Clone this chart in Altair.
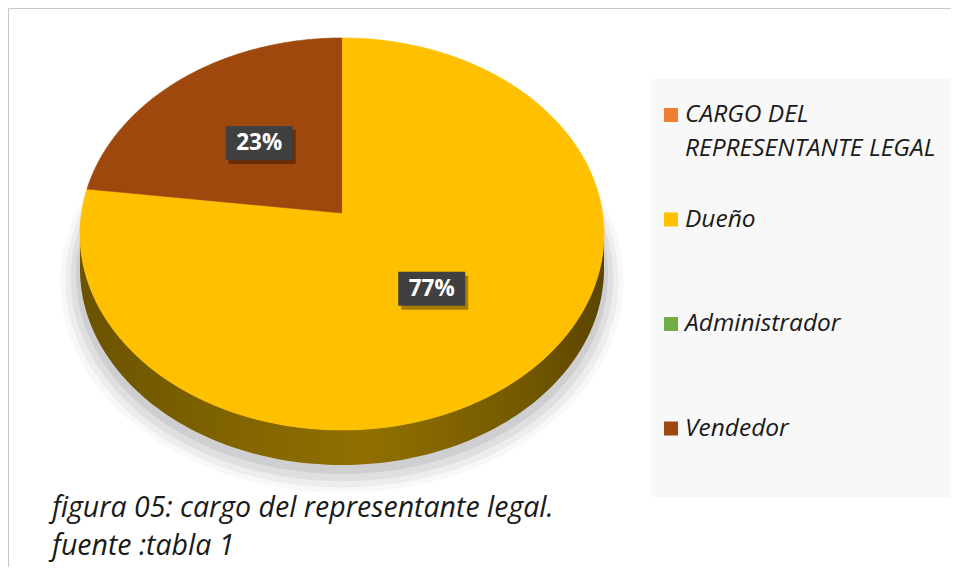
import altair as alt
import pandas as pd

# ---------------- data ----------------
slice_names = ["Dueño", "Vendedor"]
slice_values = [77, 23]
legend_labels = ["CARGO DEL REPRESENTANTE LEGAL", "Dueño", "Administrador", "Vendedor"]
legend_colors = ["#ED7D31", "#FFC000", "#70AD47", "#9E480E"]
caption_lines = ["figura 05: cargo del representante legal.", "fuente :tabla 1"]

# ---------------- layout constants ----------------
W, H = 943, 559
CXP, CYP = 334, 205          # pie centre in chart pixels
RX, RY = 260.5, 193.8        # pixel per unit
K = 0.107                    # perspective factor
DEPTH = 35 / RY              # thickness of the 3D pie
N = 180
M = 120
XDOM = [-CXP / RX, (W - CXP) / RX]
YDOM = [-(H - CYP) / RY, CYP / RY]
FONT = "Open Sans"

slices_df = pd.DataFrame({"cat": slice_names, "value": slice_values, "idx": list(range(len(slice_names)))})
legend_df = pd.DataFrame({"label": legend_labels})
caption_df = pd.DataFrame({"line": caption_lines})
one = pd.DataFrame({"d": [0]})

color_scale = alt.Scale(domain=legend_labels, range=legend_colors)


def xenc(field="x"):
    return alt.X(f"{field}:Q", scale=alt.Scale(domain=XDOM, nice=False, zero=False), axis=None)


def yenc(field="y"):
    return alt.Y(f"{field}:Q", scale=alt.Scale(domain=YDOM, nice=False, zero=False), axis=None)


def cum(chart):
    return chart.transform_joinaggregate(total="sum(value)").transform_window(
        cum="sum(value)", sort=[alt.SortField("idx")], frame=[None, 0]
    )


# outer border
border = alt.Chart(one).mark_rect(fill="white", stroke="#C8C8C8", strokeWidth=1).encode(
    x=alt.value(0.5), y=alt.value(0.5), x2=alt.value(W + 20), y2=alt.value(H + 20)
)

# legend background
legend_box = alt.Chart(one).mark_rect(fill="#F8F8F8").encode(
    x=alt.value(643), y=alt.value(71), x2=alt.value(944), y2=alt.value(489)
)

# soft shadow beneath the pie
shadow_layers = []
for s, dy, op in [(1.075, 0.24, 0.04), (1.055, 0.235, 0.06), (1.035, 0.225, 0.08), (1.015, 0.21, 0.10)]:
    shadow_layers.append(
        alt.Chart(alt.sequence(0, N + 1, as_="k"))
        .transform_calculate(t=f"2*PI*datum.k/{N}")
        .transform_calculate(X="sin(datum.t)", Z="cos(datum.t)")
        .transform_calculate(
            x=f"{s}*datum.X/(1+{K}*datum.Z)", y=f"{s}*datum.Z/(1+{K}*datum.Z) - {dy}"
        )
        .mark_line(filled=True, fill="#404050", opacity=op, strokeWidth=0)
        .encode(x=xenc(), y=yenc(), order="k:Q")
    )

# side wall of the 3D pie (front half, Dueño)
side_grad = alt.LinearGradient(
    gradient="linear",
    stops=[
        alt.GradientStop(color="#6A5200", offset=0),
        alt.GradientStop(color="#7E6200", offset=0.25),
        alt.GradientStop(color="#907000", offset=0.55),
        alt.GradientStop(color="#735800", offset=0.85),
        alt.GradientStop(color="#5A4500", offset=1),
    ],
    x1=0, x2=1, y1=0, y2=0,
)
side = (
    alt.Chart(alt.sequence(0, 2 * M + 2, as_="k"))
    .transform_calculate(ta=f"acos(-{K})", tb=f"2*PI - acos(-{K})")
    .transform_calculate(
        t=f"datum.k <= {M} ? datum.ta + (datum.tb - datum.ta)*datum.k/{M} : datum.tb - (datum.tb - datum.ta)*(datum.k - {M} - 1)/{M}",
        dep=f"datum.k <= {M} ? {DEPTH} : 0",
    )
    .transform_calculate(X="sin(datum.t)", Z="cos(datum.t)")
    .transform_calculate(x=f"datum.X/(1+{K}*datum.Z)", y=f"datum.Z/(1+{K}*datum.Z) - datum.dep")
    .mark_line(filled=True, fill=side_grad, strokeWidth=0)
    .encode(x=xenc(), y=yenc(), order="k:Q")
)

# top face slices
pie = (
    cum(alt.Chart(slices_df))
    .transform_calculate(f0="(datum.cum - datum.value)/datum.total", f1="datum.cum/datum.total")
    .transform_calculate(steps=f"sequence(-1, {N + 1})")
    .transform_flatten(["steps"], as_=["k"])
    .transform_calculate(
        th=f"2*PI*(datum.f0 + (datum.f1 - datum.f0)*max(datum.k, 0)/{N})",
        r="datum.k < 0 ? 0 : 1",
    )
    .transform_calculate(X="datum.r*sin(datum.th)", Z="datum.r*cos(datum.th)")
    .transform_calculate(x=f"datum.X/(1+{K}*datum.Z)", y=f"datum.Z/(1+{K}*datum.Z)")
    .mark_line(filled=True, strokeWidth=0.6)
    .encode(
        x=xenc(), y=yenc(), order="k:Q",
        color=alt.Color("cat:N", scale=color_scale, legend=None),
        stroke=alt.Stroke("cat:N", scale=color_scale, legend=None),
        detail="cat:N",
    )
)

# data labels
lab_base = (
    cum(alt.Chart(slices_df))
    .transform_calculate(fm="(datum.cum - datum.value/2)/datum.total")
    .transform_calculate(th="2*PI*datum.fm")
    .transform_calculate(X="0.5*sin(datum.th)", Z="0.5*cos(datum.th)")
    .transform_calculate(x=f"datum.X/(1+{K}*datum.Z)", y=f"datum.Z/(1+{K}*datum.Z)")
    .transform_calculate(pct="format(datum.value/datum.total, '.0%')")
)
lab_shadow = lab_base.mark_rect(width=67, height=34, color="#000000", opacity=0.35, xOffset=3, yOffset=4).encode(
    x=xenc(), y=yenc()
)
lab_box = lab_base.mark_rect(width=67, height=34, color="#404040").encode(x=xenc(), y=yenc())
lab_text = lab_base.mark_text(
    font=FONT, fontWeight="bold", fontSize=22.5, color="white", align="center", baseline="middle"
).encode(x=xenc(), y=yenc(), text="pct:N")

# legend
leg_y = alt.Y(
    "label:N", sort=legend_labels, axis=None,
    scale=alt.Scale(type="point", range=[107, 420.5], padding=0),
)
leg_sq = alt.Chart(legend_df).mark_square(size=196, opacity=1).encode(
    x=alt.value(663), y=leg_y,
    color=alt.Color("label:N", scale=color_scale, legend=None),
)
leg_txt = (
    alt.Chart(legend_df)
    .transform_calculate(txt="replace(datum.label, 'DEL ', 'DEL\\n')")
    .mark_text(
        font=FONT, fontStyle="italic", fontSize=24.5, color="#1A1A1A", align="left",
        baseline="line-top", lineBreak="\n", lineHeight=34, dy=-17,
    )
    .encode(x=alt.value(677), y=leg_y, text="txt:N")
)

# caption (two lines)
cap_y = alt.Y(
    "line:N", sort=caption_lines, axis=None,
    scale=alt.Scale(type="point", range=[500, 538], padding=0),
)
caption = alt.Chart(caption_df).mark_text(
    font=FONT, fontStyle="italic", fontSize=28.5, color="#1A1A1A", align="left", baseline="middle",
).encode(x=alt.value(44), y=cap_y, text="line:N")

chart = (
    alt.layer(border, legend_box, *shadow_layers, side, pie, lab_shadow, lab_box, lab_text, leg_sq, leg_txt, caption)
    .resolve_scale(x="independent", y="independent")
    .properties(width=W, height=H, padding=0, autosize=alt.AutoSizeParams(type="none"), background="white")
    .configure_view(stroke=None)
)

chart.save("out.html", embed_options={"renderer": "svg", "actions": False})
